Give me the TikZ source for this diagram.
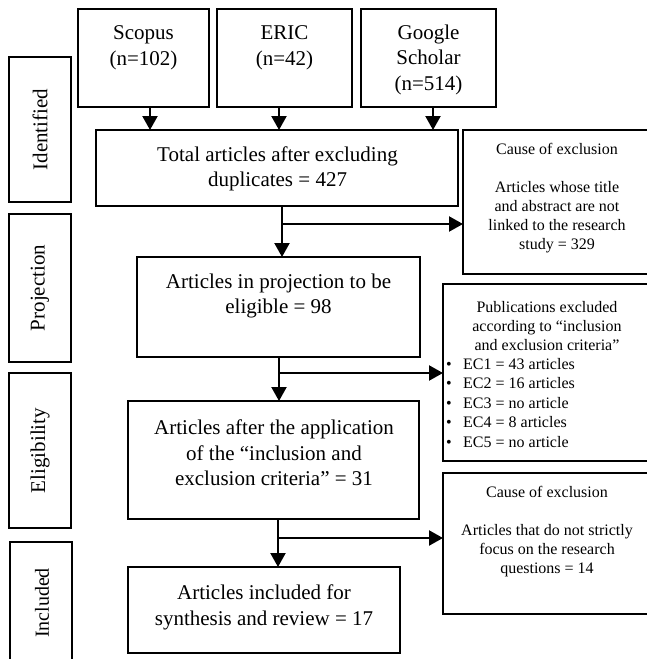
\documentclass[tikz,border=0pt]{standalone}
\usepackage{fontspec}
\setmainfont{Liberation Serif}
\usetikzlibrary{arrows.meta,calc}
\begin{document}
\begin{tikzpicture}[x=1pt,y=-1pt,
  box/.style={draw, line width=1.3pt, inner sep=0pt, outer sep=0pt, anchor=north west},
  big/.style={font=\fontsize{21}{25.5}\selectfont, align=center, inner sep=0pt},
  small/.style={font=\fontsize{16}{19}\selectfont, align=center, inner sep=0pt},
  stage/.style={draw, line width=1.3pt, inner sep=0pt, outer sep=0pt, rotate=90, minimum height=62pt, font=\fontsize{21}{25}\selectfont},
  arr/.style={line width=2.2pt, -{Triangle[length=14pt,width=15pt]}}]
\useasboundingbox (0,0) rectangle (647,659);
\clip (0,0) rectangle (647,659);

% source boxes
\node[box, minimum width=131pt, minimum height=98pt] (scopus) at (78,9) {};
\node[big] (scopusT) at (143.5,48) {Scopus\\(n=102)};
\node[box, minimum width=135pt, minimum height=98pt] (eric) at (217,9) {};
\node[big] (ericT) at (284.5,48) {ERIC\\(n=42)};
\node[box, minimum width=135pt, minimum height=98pt] (google) at (361,9) {};
\node[big] (googleT) at (428.5,59.5) {Google\\Scholar\\(n=514)};

% main flow
\node[box, minimum width=362pt, minimum height=76pt] (tot) at (96,130) {};
\node[big] (totT) at (277.5,169) {Total articles after excluding\\duplicates = 427};
\node[box, minimum width=283pt, minimum height=100pt] (proj) at (137,257) {};
\node[big] (projT) at (278.5,296) {Articles in projection to be\\eligible = 98};
\node[box, minimum width=291pt, minimum height=118pt] (elig) at (128,401) {};
\node[big] (eligT) at (274,453) {Articles after the application\\of the “inclusion and\\exclusion criteria” = 31};
\node[box, minimum width=272pt, minimum height=86pt] (incl) at (128,567) {};
\node[big] (inclT) at (264,607.5) {Articles included for\\synthesis and review = 17};

% exclusion boxes
\node[box, minimum width=192pt, minimum height=144pt] (c1) at (463,130) {};
\node[small] (c1T) at (557,198.5) {Cause of exclusion\\[19pt]Articles whose title\\and abstract are not\\linked to the research\\study = 329};
\node[box, minimum width=212pt, minimum height=177pt] (pub) at (443,284) {};
\node[small] (pubH) at (547,326.5) {Publications excluded\\according to “inclusion\\and exclusion criteria”};
\node[anchor=west, align=left, inner sep=0pt, font=\fontsize{16}{19.5}\selectfont] (pubL) at (446,403)
  {\makebox[17pt][l]{•}EC1 = 43 articles\\
   \makebox[17pt][l]{•}EC2 = 16 articles\\
   \makebox[17pt][l]{•}EC3 = no article\\
   \makebox[17pt][l]{•}EC4 = 8 articles\\
   \makebox[17pt][l]{•}EC5 = no article};
\node[box, minimum width=212pt, minimum height=141pt] (c2) at (443,473) {};
\node[small] (c2T) at (547,532) {Cause of exclusion\\[19pt]Articles that do not strictly\\focus on the research\\questions = 14};

% stage labels
\node[stage, minimum width=145pt] (sid) at (40,129.5) {Identified};
\node[stage, minimum width=148pt] (sproj) at (40,288) {Projection};
\node[stage, minimum width=155pt] (selig) at (40,450.5) {Eligibility};
\node[box, minimum width=62pt, minimum height=125pt] (sinc) at (10,542) {};
\node[rotate=90, inner sep=0pt, font=\fontsize{20}{24}\selectfont] (sincT) at (42,603) {Included};

% connectors
\draw[arr] ([xshift=6.5pt]scopus.south) -- ([xshift=6.5pt]scopus.south |- tot.north);
\draw[arr] ([xshift=-5.5pt]eric.south) -- ([xshift=-5.5pt]eric.south |- tot.north);
\draw[arr] ([xshift=4.5pt]google.south) -- ([xshift=4.5pt]google.south |- tot.north);

\draw[arr] ([xshift=5pt]tot.south) -- ([xshift=5pt]tot.south |- proj.north);
\path ([xshift=5pt]tot.south) ++(0,18) coordinate (j1);
\draw[arr] (j1) -- (j1 -| c1.west);

\draw[arr] ([xshift=0.5pt]proj.south) -- ([xshift=0.5pt]proj.south |- elig.north);
\path ([xshift=0.5pt]proj.south) ++(0,16) coordinate (j2);
\draw[arr] (j2) -- (j2 -| pub.west);

\draw[arr] ([xshift=4.5pt]elig.south) -- ([xshift=4.5pt]elig.south |- incl.north);
\path ([xshift=4.5pt]elig.south) ++(0,19) coordinate (j3);
\draw[arr] (j3) -- (j3 -| c2.west);
\end{tikzpicture}
\end{document}
